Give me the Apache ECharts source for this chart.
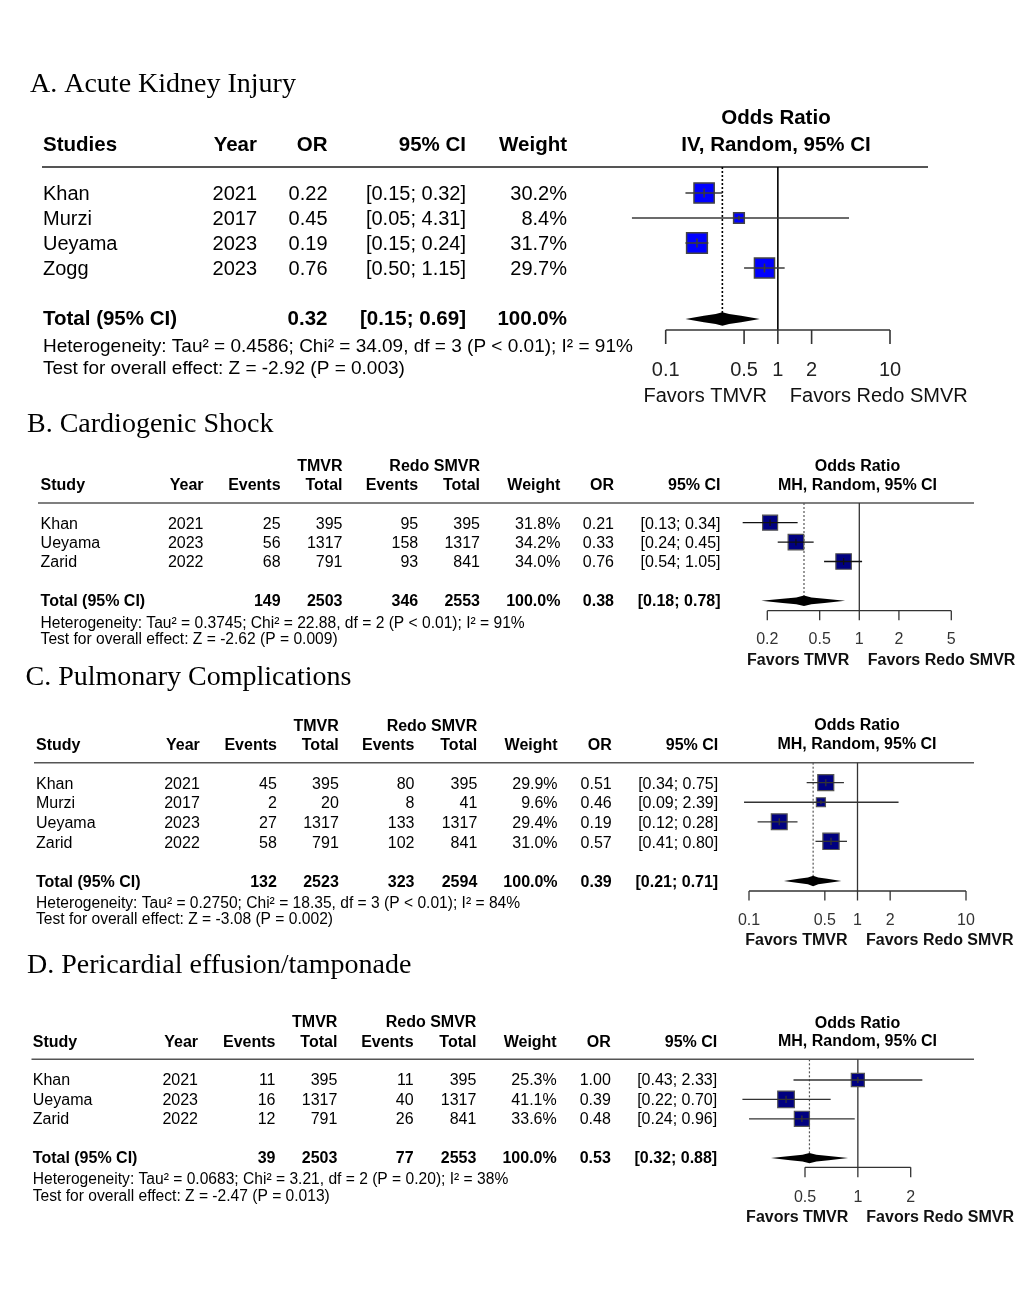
<!DOCTYPE html>
<html>
<head>
<meta charset="utf-8">
<script src="https://cdn.jsdelivr.net/npm/echarts@6/dist/echarts.min.js"></script>
<style>html,body{margin:0;padding:0;background:#fff}#c{width:1030px;height:1300px}</style>
</head>
<body>
<div id="c"></div>
<script>
// ================= DATA =================
// ---- Panel A: Acute Kidney Injury
const aTitle = 'A. Acute Kidney Injury';
const aStudies = ['Khan', 'Murzi', 'Ueyama', 'Zogg'];
const aYears = [2021, 2017, 2023, 2023];
const aOR = [0.22, 0.45, 0.19, 0.76];
const aLower = [0.15, 0.05, 0.15, 0.50];
const aUpper = [0.32, 4.31, 0.24, 1.15];
const aWeight = [30.2, 8.4, 31.7, 29.7];
const aPooled = [0.32, 0.15, 0.69];
const aTicks = [0.1, 0.5, 1, 2, 10];
const aMethod = ['Odds Ratio', 'IV, Random, 95% CI'];
const aHetero = 'Heterogeneity: Tau\u00b2 = 0.4586; Chi\u00b2 = 34.09, df = 3 (P < 0.01); I\u00b2 = 91%';
const aTest = 'Test for overall effect: Z = -2.92 (P = 0.003)';

// ---- Panel B: Cardiogenic Shock
const bTitle = 'B. Cardiogenic Shock';
const bStudies = ['Khan', 'Ueyama', 'Zarid'];
const bYears = [2021, 2023, 2022];
const bEventsT = [25, 56, 68];
const bTotalT = [395, 1317, 791];
const bEventsC = [95, 158, 93];
const bTotalC = [395, 1317, 841];
const bWeight = [31.8, 34.2, 34.0];
const bOR = [0.21, 0.33, 0.76];
const bLower = [0.13, 0.24, 0.54];
const bUpper = [0.34, 0.45, 1.05];
const bPooled = [0.38, 0.18, 0.78];
const bSums = [149, 2503, 346, 2553];
const bTicks = [0.2, 0.5, 1, 2, 5];
const bHetero = 'Heterogeneity: Tau\u00b2 = 0.3745; Chi\u00b2 = 22.88, df = 2 (P < 0.01); I\u00b2 = 91%';
const bTest = 'Test for overall effect: Z = -2.62 (P = 0.009)';

// ---- Panel C: Pulmonary Complications
const cTitle = 'C. Pulmonary Complications';
const cStudies = ['Khan', 'Murzi', 'Ueyama', 'Zarid'];
const cYears = [2021, 2017, 2023, 2022];
const cEventsT = [45, 2, 27, 58];
const cTotalT = [395, 20, 1317, 791];
const cEventsC = [80, 8, 133, 102];
const cTotalC = [395, 41, 1317, 841];
const cWeight = [29.9, 9.6, 29.4, 31.0];
const cOR = [0.51, 0.46, 0.19, 0.57];
const cLower = [0.34, 0.09, 0.12, 0.41];
const cUpper = [0.75, 2.39, 0.28, 0.80];
const cPooled = [0.39, 0.21, 0.71];
const cSums = [132, 2523, 323, 2594];
const cTicks = [0.1, 0.5, 1, 2, 10];
const cHetero = 'Heterogeneity: Tau\u00b2 = 0.2750; Chi\u00b2 = 18.35, df = 3 (P < 0.01); I\u00b2 = 84%';
const cTest = 'Test for overall effect: Z = -3.08 (P = 0.002)';

// ---- Panel D: Pericardial effusion/tamponade
const dTitle = 'D. Pericardial effusion/tamponade';
const dStudies = ['Khan', 'Ueyama', 'Zarid'];
const dYears = [2021, 2023, 2022];
const dEventsT = [11, 16, 12];
const dTotalT = [395, 1317, 791];
const dEventsC = [11, 40, 26];
const dTotalC = [395, 1317, 841];
const dWeight = [25.3, 41.1, 33.6];
const dOR = [1.00, 0.39, 0.48];
const dLower = [0.43, 0.22, 0.24];
const dUpper = [2.33, 0.70, 0.96];
const dPooled = [0.53, 0.32, 0.88];
const dSums = [39, 2503, 77, 2553];
const dTicks = [0.5, 1, 2];
const dHetero = 'Heterogeneity: Tau\u00b2 = 0.0683; Chi\u00b2 = 3.21, df = 2 (P = 0.20); I\u00b2 = 38%';
const dTest = 'Test for overall effect: Z = -2.47 (P = 0.013)';

const mhMethod = ['Odds Ratio', 'MH, Random, 95% CI'];
const favorsLabels = ['Favors TMVR', 'Favors Redo SMVR'];
const simpleHeaders = ['Studies', 'Year', 'OR', '95% CI', 'Weight'];
const fullHeaders = ['Study', 'Year', 'Events', 'Total', 'Events', 'Total', 'Weight', 'OR', '95% CI'];
const groupHeaders = ['TMVR', 'Redo SMVR'];
const totalLabel = 'Total (95% CI)';
const totalWeight = '100.0%';

// ================= LAYOUT =================
const SANS = "'Liberation Sans', Arial, Helvetica, sans-serif";
const SERIF = "'Liberation Serif', 'Times New Roman', serif";

const panels = [
  { title: aTitle, simple: true, studies: aStudies, years: aYears, or: aOR, lo: aLower, hi: aUpper, w: aWeight,
    pooled: aPooled, ticks: aTicks, method: aMethod, hetero: aHetero, test: aTest,
    L: { titleX: 30, titleY: 85, row0: 193, sp: 25, headerY: 167, axisY: 330, x0: 665.7, x1: 890,
         ruleX0: 42, ruleX1: 928, ruleW: 2, hdrY: 145, methodY: [118, 145], methodX: 776,
         font: 20, bold: 20.5, small: 19, smallX: 43, heteroY: 347, testY: 368.5, textDy: 1.5,
         cols: [43, 257, 327.5, 466, 567],
         tickLen: 14, tickLabelY: 370, tickFont: 20, tickColor: '#222', favorsY: 396, favorsFont: 20, favorsBold: false,
         favGapL: 11, favGapR: 12,
         boxK: 3.68, boxFill: '#0000FF', boxStroke: '#444', boxLW: 1.5, ciColor: '#3a3a3a', ciLW: 1.6,
         nullColor: '#000', nullLW: 1.6, dotColor: '#000', dotLW: 1.6, axisColor: '#333', axisLW: 1.6,
         dHalf: 6.7, dDy: 1, dShape: [0.5, 0.75] } },
  { title: bTitle, simple: false, studies: bStudies, years: bYears, evT: bEventsT, totT: bTotalT, evC: bEventsC, totC: bTotalC,
    or: bOR, lo: bLower, hi: bUpper, w: bWeight, pooled: bPooled, sums: bSums, ticks: bTicks, method: mhMethod, hetero: bHetero, test: bTest,
    L: { titleX: 27, titleY: 425, row0: 522.7, sp: 19.4, headerY: 503, axisY: 610.7, x0: 767.3, x1: 951.3,
         ruleX0: 38, ruleX1: 974, ruleW: 1.5, hdrY: [466.7, 486], methodY: [466.7, 485.5], methodX: 857.5,
         font: 16, bold: 16, small: 15.6, smallX: 40.6, heteroY: 623.5, testY: 640, textDy: 1.5,
         cols: [40.6, 203.5, 280.6, 342.5, 418.2, 480, 560.4, 614, 720.5],
         tickLen: 9.5, tickLabelY: 640, tickFont: 16, tickColor: '#333', favorsY: 661, favorsFont: 16, favorsBold: true,
         favGapL: 10, favGapR: 8.5,
         boxK: 2.66, boxFill: '#000080', boxStroke: '#555', boxLW: 1.2, ciColor: '#111', ciLW: 1.3,
         nullColor: '#333', nullLW: 1.3, dotColor: '#555', dotLW: 1.2, axisColor: '#333', axisLW: 1.3,
         dHalf: 5.2, dDy: 0.5, dShape: [0.4, 0.65] } },
  { title: cTitle, simple: false, studies: cStudies, years: cYears, evT: cEventsT, totT: cTotalT, evC: cEventsC, totC: cTotalC,
    or: cOR, lo: cLower, hi: cUpper, w: cWeight, pooled: cPooled, sums: cSums, ticks: cTicks, method: mhMethod, hetero: cHetero, test: cTest,
    L: { titleX: 25.5, titleY: 678, row0: 782.7, sp: 19.55, headerY: 762.7, axisY: 891, x0: 749, x1: 966,
         ruleX0: 34, ruleX1: 974, ruleW: 1.5, hdrY: [726.7, 746], methodY: [726, 745], methodX: 857,
         font: 16, bold: 16, small: 15.6, smallX: 36, heteroY: 903.5, testY: 920, textDy: 1.8,
         cols: [36, 199.8, 276.9, 338.8, 414.5, 477.3, 557.6, 611.7, 718.2],
         tickLen: 9.5, tickLabelY: 920.7, tickFont: 16, tickColor: '#333', favorsY: 940.5, favorsFont: 16, favorsBold: true,
         favGapL: 10, favGapR: 8.5,
         boxK: 2.92, boxFill: '#000080', boxStroke: '#555', boxLW: 1.2, ciColor: '#333', ciLW: 1.3,
         nullColor: '#333', nullLW: 1.3, dotColor: '#555', dotLW: 1.2, axisColor: '#333', axisLW: 1.3,
         dHalf: 5.2, dDy: 0.5, dShape: [0.4, 0.65] } },
  { title: dTitle, simple: false, studies: dStudies, years: dYears, evT: dEventsT, totT: dTotalT, evC: dEventsC, totC: dTotalC,
    or: dOR, lo: dLower, hi: dUpper, w: dWeight, pooled: dPooled, sums: dSums, ticks: dTicks, method: mhMethod, hetero: dHetero, test: dTest,
    L: { titleX: 27, titleY: 965.7, row0: 1080, sp: 19.4, headerY: 1059.3, axisY: 1167.3, x0: 805, x1: 910.7,
         ruleX0: 31.5, ruleX1: 974, ruleW: 1.5, hdrY: [1022.7, 1042.3], methodY: [1023.3, 1041.7], methodX: 857.5,
         font: 16, bold: 16, small: 15.6, smallX: 32.8, heteroY: 1180, testY: 1196.7, textDy: 1,
         cols: [32.8, 198, 275.5, 337.4, 413.6, 476.4, 556.7, 610.8, 717.2],
         tickLen: 10, tickLabelY: 1197.7, tickFont: 16, tickColor: '#333', favorsY: 1217.7, favorsFont: 16, favorsBold: true,
         favGapL: 9.5, favGapR: 8.5,
         boxK: 2.6, boxFill: '#000080', boxStroke: '#555', boxLW: 1.2, ciColor: '#333', ciLW: 1.3,
         nullColor: '#333', nullLW: 1.3, dotColor: '#555', dotLW: 1.2, axisColor: '#333', axisLW: 1.3,
         dHalf: 5.2, dDy: 0.5, dShape: [0.4, 0.65] } }
];

// ================= HELPERS =================
const f2 = v => v.toFixed(2);
const ciStr = (lo, hi) => '[' + f2(lo) + '; ' + f2(hi) + ']';
const pct = v => v.toFixed(1) + '%';

function txt(x, y, s, size, opt) {
  opt = opt || {};
  return {
    type: 'text', x: x, y: y, silent: true,
    style: {
      text: String(s),
      font: (opt.bold ? 'bold ' : '') + size + 'px ' + (opt.family || SANS),
      fill: opt.color || '#000',
      textAlign: opt.align || 'left',
      textVerticalAlign: 'middle'
    }
  };
}

function studyRender(L) {
  return function (params, api) {
    const r = api.value(4);
    const c = api.coord([api.value(0), r]);
    const l = api.coord([api.value(1), r]);
    const h = api.coord([api.value(2), r]);
    const s = L.boxK * Math.sqrt(api.value(3));
    return { type: 'group', children: [
      { type: 'rect', shape: { x: c[0] - s / 2, y: c[1] - s / 2, width: s, height: s },
        style: { fill: L.boxFill, stroke: L.boxStroke, lineWidth: L.boxLW } },
      { type: 'line', shape: { x1: l[0], y1: c[1], x2: h[0], y2: c[1] },
        style: { stroke: L.ciColor, lineWidth: L.ciLW } },
      { type: 'line', shape: { x1: c[0], y1: c[1] - s * 0.22, x2: c[0], y2: c[1] + s * 0.22 },
        style: { stroke: L.ciColor, lineWidth: L.ciLW } }
    ] };
  };
}

function diamondRender(L) {
  return function (params, api) {
    const r = api.value(3);
    const c = api.coord([api.value(0), r]);
    const l = api.coord([api.value(1), r]);
    const h = api.coord([api.value(2), r]);
    const yc = c[1] + L.dDy, hh = L.dHalf, lx = l[0], cx = c[0], rx = h[0];
    const s1 = L.dShape[0], s2 = L.dShape[1];
    const pts = [
      [lx, yc], [lx + (cx - lx) * 0.5, yc - hh * s1], [lx + (cx - lx) * 0.82, yc - hh * s2], [cx, yc - hh],
      [cx + (rx - cx) * 0.18, yc - hh * s2], [cx + (rx - cx) * 0.5, yc - hh * s1], [rx, yc],
      [cx + (rx - cx) * 0.5, yc + hh * s1], [cx + (rx - cx) * 0.18, yc + hh * s2], [cx, yc + hh],
      [lx + (cx - lx) * 0.82, yc + hh * s2], [lx + (cx - lx) * 0.5, yc + hh * s1]
    ];
    return { type: 'polygon', shape: { points: pts }, style: { fill: '#000' } };
  };
}

function refRender(L) {
  return function (params, api) {
    const a = api.coord([api.value(0), api.value(1)]);
    const b = api.coord([api.value(0), api.value(2)]);
    const dotted = api.value(3) === 1;
    return { type: 'line', shape: { x1: a[0], y1: a[1], x2: b[0], y2: b[1] },
      style: dotted ? { stroke: L.dotColor, lineWidth: L.dotLW, lineDash: [2, 2] }
                    : { stroke: L.nullColor, lineWidth: L.nullLW } };
  };
}

function axisRender(L, ticks) {
  return function (params, api) {
    const yv = api.value(2);
    const a = api.coord([api.value(0), yv]);
    const b = api.coord([api.value(1), yv]);
    const ch = [{ type: 'line', shape: { x1: a[0], y1: a[1], x2: b[0], y2: b[1] },
      style: { stroke: L.axisColor, lineWidth: L.axisLW } }];
    ticks.forEach(function (t) {
      const p = api.coord([t, yv]);
      ch.push({ type: 'line', shape: { x1: p[0], y1: p[1], x2: p[0], y2: p[1] + L.tickLen },
        style: { stroke: L.axisColor, lineWidth: L.axisLW } });
      ch.push({ type: 'text', x: p[0], y: L.tickLabelY,
        style: { text: String(t), font: L.tickFont + 'px ' + SANS, fill: L.tickColor,
                 textAlign: 'center', textVerticalAlign: 'middle' } });
    });
    const n = api.coord([1, yv]);
    const ff = (L.favorsBold ? 'bold ' : '') + L.favorsFont + 'px ' + SANS;
    ch.push({ type: 'text', x: n[0] - L.favGapL, y: L.favorsY,
      style: { text: favorsLabels[0], font: ff, fill: '#111', textAlign: 'right', textVerticalAlign: 'middle' } });
    ch.push({ type: 'text', x: n[0] + L.favGapR, y: L.favorsY,
      style: { text: favorsLabels[1], font: ff, fill: '#111', textAlign: 'left', textVerticalAlign: 'middle' } });
    return { type: 'group', children: ch };
  };
}

// ================= BUILD =================
const grids = [], xAxes = [], yAxes = [], series = [], graphics = [];

panels.forEach(function (P, i) {
  const L = P.L;
  const yMinV = (L.headerY - L.row0) / L.sp;
  const yMaxV = (L.axisY - L.row0) / L.sp;
  const n = P.studies.length;
  const totalRow = n + 1;
  const ty = r => L.row0 + r * L.sp + L.textDy;

  grids.push({ left: L.x0, top: L.headerY, width: L.x1 - L.x0, height: L.axisY - L.headerY,
               containLabel: false, outerBoundsMode: 'none', show: false });
  xAxes.push({ type: 'log', logBase: 10, gridIndex: i, min: P.ticks[0], max: P.ticks[P.ticks.length - 1], show: false });
  yAxes.push({ type: 'value', gridIndex: i, inverse: true, min: yMinV, max: yMaxV, show: false });

  const common = { type: 'custom', coordinateSystem: 'cartesian2d', xAxisIndex: i, yAxisIndex: i,
                   clip: false, silent: true, animation: false };

  series.push(Object.assign({}, common, {
    name: 'ref' + i, z: 1, renderItem: refRender(L), encode: { x: 0, y: 1 },
    data: [[1, yMinV, yMaxV, 0], [P.pooled[0], yMinV, totalRow, 1]]
  }));
  series.push(Object.assign({}, common, {
    name: 'studies' + i, z: 3, renderItem: studyRender(L), encode: { x: 0, y: 4 },
    data: P.or.map((v, k) => [v, P.lo[k], P.hi[k], P.w[k], k])
  }));
  series.push(Object.assign({}, common, {
    name: 'pooled' + i, z: 3, renderItem: diamondRender(L), encode: { x: 0, y: 3 },
    data: [[P.pooled[0], P.pooled[1], P.pooled[2], totalRow]]
  }));
  series.push(Object.assign({}, common, {
    name: 'axis' + i, z: 2, renderItem: axisRender(L, P.ticks), encode: { x: 0, y: 2 },
    data: [[P.ticks[0], P.ticks[P.ticks.length - 1], yMaxV]]
  }));

  // Title
  graphics.push(txt(L.titleX, L.titleY, P.title, 28, { family: SERIF }));
  // Header rule
  graphics.push({ type: 'line', silent: true, shape: { x1: L.ruleX0, y1: L.headerY, x2: L.ruleX1, y2: L.headerY },
                  style: { stroke: '#555', lineWidth: L.ruleW } });
  // Method header
  graphics.push(txt(L.methodX, L.methodY[0], P.method[0], L.bold, { bold: true, align: 'center' }));
  graphics.push(txt(L.methodX, L.methodY[1], P.method[1], L.bold, { bold: true, align: 'center' }));

  const C = L.cols;
  if (P.simple) {
    graphics.push(txt(C[0], L.hdrY, simpleHeaders[0], L.bold, { bold: true }));
    for (let k = 1; k < 5; k++) graphics.push(txt(C[k], L.hdrY, simpleHeaders[k], L.bold, { bold: true, align: 'right' }));
    P.studies.forEach(function (s, k) {
      const y = ty(k);
      graphics.push(txt(C[0], y, s, L.font));
      graphics.push(txt(C[1], y, P.years[k], L.font, { align: 'right' }));
      graphics.push(txt(C[2], y, f2(P.or[k]), L.font, { align: 'right' }));
      graphics.push(txt(C[3], y, ciStr(P.lo[k], P.hi[k]), L.font, { align: 'right' }));
      graphics.push(txt(C[4], y, pct(P.w[k]), L.font, { align: 'right' }));
    });
    const y = ty(totalRow);
    graphics.push(txt(C[0], y, totalLabel, L.bold, { bold: true }));
    graphics.push(txt(C[2], y, f2(P.pooled[0]), L.bold, { bold: true, align: 'right' }));
    graphics.push(txt(C[3], y, ciStr(P.pooled[1], P.pooled[2]), L.bold, { bold: true, align: 'right' }));
    graphics.push(txt(C[4], y, totalWeight, L.bold, { bold: true, align: 'right' }));
  } else {
    graphics.push(txt(C[3], L.hdrY[0], groupHeaders[0], L.bold, { bold: true, align: 'right' }));
    graphics.push(txt(C[5], L.hdrY[0], groupHeaders[1], L.bold, { bold: true, align: 'right' }));
    graphics.push(txt(C[0], L.hdrY[1], fullHeaders[0], L.bold, { bold: true }));
    for (let k = 1; k < 9; k++) graphics.push(txt(C[k], L.hdrY[1], fullHeaders[k], L.bold, { bold: true, align: 'right' }));
    P.studies.forEach(function (s, k) {
      const y = ty(k);
      graphics.push(txt(C[0], y, s, L.font));
      const vals = [P.years[k], P.evT[k], P.totT[k], P.evC[k], P.totC[k], pct(P.w[k]), f2(P.or[k]), ciStr(P.lo[k], P.hi[k])];
      vals.forEach((v, j) => graphics.push(txt(C[j + 1], y, v, L.font, { align: 'right' })));
    });
    const y = ty(totalRow);
    graphics.push(txt(C[0], y, totalLabel, L.bold, { bold: true }));
    const tv = [P.sums[0], P.sums[1], P.sums[2], P.sums[3], totalWeight, f2(P.pooled[0]), ciStr(P.pooled[1], P.pooled[2])];
    tv.forEach((v, j) => graphics.push(txt(C[j + 2], y, v, L.bold, { bold: true, align: 'right' })));
  }
  graphics.push(txt(L.smallX, L.heteroY, P.hetero, L.small));
  graphics.push(txt(L.smallX, L.testY, P.test, L.small));
});

const chart = echarts.init(document.getElementById('c'), null, { renderer: 'canvas' });
chart.setOption({
  backgroundColor: '#fff',
  animation: false,
  grid: grids,
  xAxis: xAxes,
  yAxis: yAxes,
  series: series,
  graphic: { elements: graphics }
});
</script>
</body>
</html>
